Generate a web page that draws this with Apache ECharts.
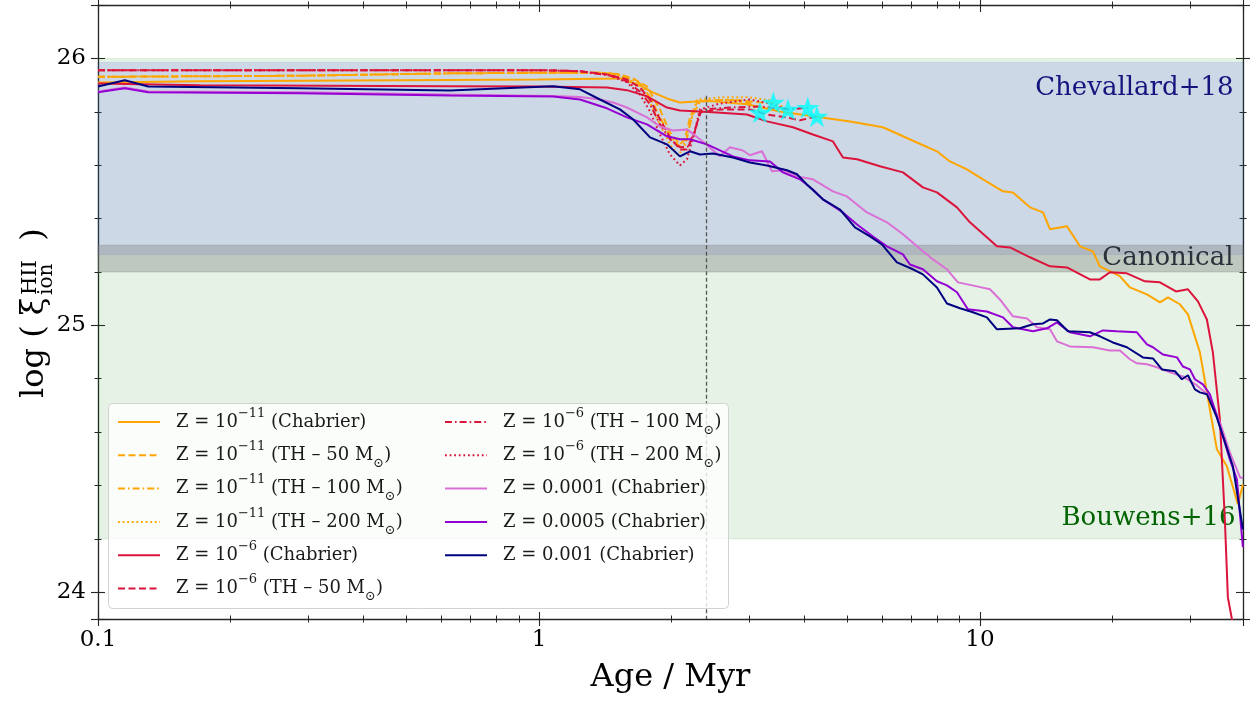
<!DOCTYPE html>
<html><head><meta charset="utf-8">
<script src="https://cdn.jsdelivr.net/npm/echarts@6/dist/echarts.min.js"></script>
<style>html,body{margin:0;padding:0;background:#fff}#c{width:1256px;height:701px}</style>
</head><body><div id="c"></div>
<script>
const FONT = 'DejaVu Serif';

// ---------- data: [age (Myr), log xi_ion] ----------
const z11_chab = [[0.1,25.910],[0.170,25.914],[0.628,25.919],[1.0,25.921],[1.526,25.925],[1.694,25.899],[1.813,25.873],[1.951,25.850],[2.088,25.835],[2.318,25.839],[2.481,25.839],[2.963,25.828],[3.52,25.801],[4.181,25.783],[5.074,25.764],[6.026,25.742],[7.197,25.685],[7.990,25.652],[8.551,25.614],[9.343,25.584],[10.16,25.547],[11.28,25.502],[11.88,25.498],[12.99,25.442],[13.90,25.423],[14.42,25.360],[15.75,25.371],[16.86,25.296],[18.04,25.277],[18.71,25.221],[20.77,25.184],[21.88,25.142],[23.92,25.116],[25.60,25.086],[26.69,25.105],[28.41,25.079],[29.63,25.041],[31.54,24.899],[34.46,24.536],[36.31,24.472],[38.46,24.330],[39.48,24.404]];
const z11_th50 = [[0.1,25.931],[0.287,25.935],[0.628,25.944],[1.0,25.946],[1.375,25.946],[1.526,25.940],[1.634,25.925],[1.758,25.895],[1.881,25.809],[1.982,25.723],[2.088,25.678],[2.143,25.697],[2.2,25.779],[2.282,25.835],[2.442,25.843],[2.856,25.843],[3.171,25.835],[3.4,25.835]];
const z11_th100 = [[0.1,25.931],[0.287,25.935],[0.628,25.944],[1.0,25.946],[1.375,25.946],[1.45,25.944],[1.583,25.929],[1.694,25.906],[1.786,25.854],[1.881,25.779],[1.982,25.708],[2.088,25.670],[2.155,25.685],[2.22,25.779],[2.318,25.839],[2.711,25.846],[3.009,25.831],[3.171,25.798]];
const z11_th200 = [[0.1,25.931],[0.287,25.935],[0.628,25.944],[1.0,25.946],[1.375,25.946],[1.45,25.944],[1.583,25.925],[1.694,25.895],[1.786,25.835],[1.881,25.753],[1.982,25.678],[2.06,25.640],[2.13,25.659],[2.2,25.753],[2.282,25.846],[2.573,25.854],[3.009,25.854],[3.341,25.843],[3.67,25.809]];
const z6_chab = [[0.1,25.906],[0.170,25.899],[0.628,25.896],[1.0,25.895],[1.426,25.891],[1.583,25.881],[1.758,25.858],[1.951,25.816],[2.088,25.805],[2.481,25.798],[2.963,25.790],[3.289,25.764],[3.767,25.742],[4.181,25.715],[4.642,25.689],[4.891,25.629],[5.263,25.622],[5.933,25.596],[6.690,25.573],[7.426,25.517],[7.990,25.498],[8.870,25.442],[9.491,25.386],[10.93,25.296],[11.70,25.292],[12.99,25.255],[14.42,25.221],[15.75,25.217],[17.76,25.172],[18.71,25.172],[19.71,25.199],[21.54,25.195],[23.67,25.165],[25.60,25.161],[27.83,25.127],[29.63,25.135],[31.22,25.090],[32.71,25.022],[33.75,24.899],[35.01,24.648],[35.93,24.273],[36.50,23.981],[37.47,23.880]];
const z6_th50 = [[0.1,25.956],[0.287,25.956],[0.628,25.956],[1.0,25.956],[1.239,25.952],[1.426,25.940],[1.583,25.921],[1.694,25.891],[1.786,25.846],[1.881,25.772],[1.982,25.704],[2.088,25.659],[2.166,25.659],[2.247,25.715],[2.318,25.798],[2.573,25.809],[3.009,25.809],[3.289,25.790],[3.651,25.779],[3.907,25.768],[4.269,25.783]];
const z6_th100 = [[0.1,25.956],[0.287,25.956],[0.628,25.956],[1.0,25.956],[1.239,25.952],[1.45,25.936],[1.583,25.914],[1.694,25.876],[1.786,25.828],[1.881,25.753],[1.982,25.697],[2.088,25.667],[2.18,25.670],[2.26,25.734],[2.34,25.809],[2.711,25.816],[3.171,25.820],[3.70,25.809],[4.07,25.816]];
const z6_th200 = [[0.1,25.956],[0.287,25.956],[0.628,25.956],[1.0,25.956],[1.239,25.952],[1.45,25.936],[1.583,25.910],[1.694,25.865],[1.786,25.801],[1.881,25.715],[1.982,25.640],[2.088,25.599],[2.166,25.622],[2.247,25.715],[2.318,25.809],[2.573,25.831],[3.009,25.846],[3.341,25.831],[3.67,25.809]];
const z1e4_chab = [[0.1,25.876],[0.115,25.891],[0.130,25.876],[0.287,25.873],[0.628,25.865],[1.076,25.859],[1.239,25.855],[1.375,25.846],[1.472,25.835],[1.583,25.816],[1.758,25.779],[1.881,25.745],[2.014,25.730],[2.166,25.734],[2.318,25.697],[2.573,25.633],[2.711,25.667],[2.901,25.655],[3.009,25.637],[3.205,25.652],[3.376,25.577],[3.575,25.581],[3.846,25.558],[4.181,25.547],[4.642,25.502],[4.995,25.483],[5.544,25.423],[6.153,25.386],[6.690,25.341],[7.197,25.296],[7.825,25.247],[8.418,25.210],[8.916,25.161],[9.844,25.146],[10.54,25.135],[11.10,25.097],[11.88,25.034],[12.79,25.026],[13.47,24.993],[14.42,24.985],[14.95,24.940],[16.00,24.921],[18.04,24.918],[19.71,24.906],[20.77,24.906],[21.88,24.873],[22.70,24.858],[23.92,24.854],[25.20,24.843],[26.97,24.824],[28.86,24.809],[31.05,24.775],[33.23,24.734],[35.01,24.637],[36.88,24.524],[38.87,24.431],[39.48,24.427]];
const z5e4_chab = [[0.1,25.873],[0.115,25.888],[0.130,25.873],[0.287,25.869],[0.628,25.861],[1.076,25.857],[1.239,25.846],[1.426,25.813],[1.583,25.779],[1.758,25.753],[1.951,25.708],[2.088,25.697],[2.2,25.697],[2.404,25.678],[2.754,25.633],[3.009,25.618],[3.341,25.614],[3.575,25.573],[3.907,25.547],[4.181,25.509],[4.405,25.472],[4.891,25.423],[5.263,25.378],[5.721,25.333],[6.153,25.296],[6.690,25.266],[6.940,25.228],[7.426,25.210],[7.990,25.165],[8.418,25.150],[8.870,25.124],[9.39,25.060],[10.37,25.052],[11.28,25.030],[11.88,24.993],[13.19,24.978],[14.19,24.989],[14.95,25.011],[16.00,24.974],[17.76,24.959],[19.01,24.981],[20.45,24.978],[22.70,24.974],[23.92,24.929],[24.68,24.918],[26.00,24.891],[27.98,24.880],[28.86,24.846],[29.94,24.835],[30.73,24.798],[32.04,24.779],[33.23,24.742],[34.46,24.659],[35.56,24.584],[36.88,24.498],[38.26,24.423],[39.48,24.169]];
const z1e3_chab = [[0.1,25.895],[0.115,25.918],[0.130,25.895],[0.287,25.888],[0.628,25.880],[1.076,25.896],[1.239,25.884],[1.375,25.846],[1.526,25.809],[1.634,25.772],[1.786,25.704],[1.951,25.678],[2.088,25.633],[2.2,25.652],[2.318,25.640],[2.481,25.644],[2.754,25.629],[3.009,25.610],[3.289,25.599],[3.651,25.581],[3.846,25.566],[4.052,25.528],[4.405,25.472],[4.815,25.434],[5.208,25.367],[5.632,25.333],[5.995,25.303],[6.483,25.236],[7.049,25.210],[7.426,25.191],[7.990,25.142],[8.418,25.082],[9.011,25.064],[9.641,25.049],[10.37,25.030],[10.93,24.985],[12.32,24.989],[13.19,25.004],[13.90,25.007],[14.42,25.022],[14.95,25.019],[15.83,24.978],[17.76,24.974],[18.71,24.959],[20.02,24.936],[21.54,24.918],[23.42,24.880],[24.68,24.876],[25.87,24.835],[27.69,24.828],[28.71,24.798],[29.63,24.813],[30.73,24.760],[31.54,24.749],[32.71,24.742],[34.46,24.655],[37.47,24.472],[39.48,24.236]];
const starPoints = [[3.17,25.798],[3.40,25.835],[3.67,25.809],[4.07,25.816],[4.27,25.783]];

const bouwensBand = [24.2, 26.0];
const chevallardBand = [25.265, 25.985];
const canonicalBand = [25.2, 25.3];
const markerAge = [2.39, 25.86];

const xRange = [0.1, 39.5];
const yRange = [23.9, 26.2];
const xTickLabels = {'-1':'0.1', '0':'1', '1':'10'};
const yTickLabels = ['24','25','26'];

// ---------- series definitions ----------
const ORANGE='#ffa500', RED='#dc143c', PINK='#da70d6', PURPLE='#9400d3', NAVY='#000080';
const DASH=[7,3.5], DASHDOT=[7,3,1.6,3], DOT=[1.8,2.8];
const lines = [
  {name:'Z = 1e-11 (Chabrier)', data:z11_chab, color:ORANGE, type:'solid', label:'{n0|Z = 10}{sup|−11}{n| (Chabrier)}'},
  {name:'Z = 1e-11 (TH - 50)', data:z11_th50, color:ORANGE, type:DASH, label:'{n0|Z = 10}{sup|−11}{n| (TH – 50 M}{sub|⊙}{n|)}'},
  {name:'Z = 1e-11 (TH - 100)', data:z11_th100, color:ORANGE, type:DASHDOT, label:'{n0|Z = 10}{sup|−11}{n| (TH – 100 M}{sub|⊙}{n|)}'},
  {name:'Z = 1e-11 (TH - 200)', data:z11_th200, color:ORANGE, type:DOT, label:'{n0|Z = 10}{sup|−11}{n| (TH – 200 M}{sub|⊙}{n|)}'},
  {name:'Z = 1e-6 (Chabrier)', data:z6_chab, color:RED, type:'solid', label:'{n0|Z = 10}{sup|−6}{n| (Chabrier)}'},
  {name:'Z = 1e-6 (TH - 50)', data:z6_th50, color:RED, type:DASH, label:'{n0|Z = 10}{sup|−6}{n| (TH – 50 M}{sub|⊙}{n|)}'},
  {name:'Z = 1e-6 (TH - 100)', data:z6_th100, color:RED, type:DASHDOT, label:'{n0|Z = 10}{sup|−6}{n| (TH – 100 M}{sub|⊙}{n|)}'},
  {name:'Z = 1e-6 (TH - 200)', data:z6_th200, color:RED, type:DOT, label:'{n0|Z = 10}{sup|−6}{n| (TH – 200 M}{sub|⊙}{n|)}'},
  {name:'Z = 0.0001 (Chabrier)', data:z1e4_chab, color:PINK, type:'solid', label:'{n0|Z = 0.0001 (Chabrier)}'},
  {name:'Z = 0.0005 (Chabrier)', data:z5e4_chab, color:PURPLE, type:'solid', label:'{n0|Z = 0.0005 (Chabrier)}'},
  {name:'Z = 0.001 (Chabrier)', data:z1e3_chab, color:NAVY, type:'solid', label:'{n0|Z = 0.001 (Chabrier)}'}
];
const labelMap = {};
lines.forEach(l => labelMap[l.name] = l.label);

const TXT = '#1a1a1a';
const rich = {
  n0: {fontFamily:FONT, fontSize:18, lineHeight:30, height:30, color:TXT, padding:[0,0,0,11]},
  n: {fontFamily:FONT, fontSize:18, lineHeight:30, height:30, color:TXT},
  sup: {fontFamily:FONT, fontSize:13, lineHeight:17.6, verticalAlign:'top', color:TXT},
  sub: {fontFamily:FONT, fontSize:13, lineHeight:17, verticalAlign:'bottom', color:TXT}
};
const ROW0 = 407, ROWSTEP = 33.3;
function legendCfg(name, left, row){
  return {
    data: [name], orient:'vertical', left:left, top:ROW0 + row*ROWSTEP, padding:0,
    itemWidth:42, itemHeight:30, itemGap:0, selectedMode:false,
    itemStyle:{opacity:0, color:'rgba(0,0,0,0)', borderWidth:0},
    textStyle:{fontFamily:FONT, fontSize:18, lineHeight:30, height:30, color:TXT, rich:rich},
    formatter: n => labelMap[n], z: 10
  };
}

const AX = '#262626';
function xAx(pos, inside, showLine, showLabel, extra){
  return Object.assign({
    type:'log', logBase:10, min:xRange[0], max:xRange[1], position:pos,
    axisLine:{show:showLine, onZero:false, lineStyle:{color:AX, width:1.3}},
    axisTick:{show:true, inside:inside, length:7, lineStyle:{color:AX, width:1.1}},
    minorTick:{show:true, splitNumber:9, length:3.5, lineStyle:{color:AX, width:1}},
    axisLabel:{show:showLabel, showMaxLabel:false, margin:10, fontFamily:FONT, fontSize:23, color:'#000',
      formatter: v => { const e = Math.round(Math.log10(v)); return Math.abs(Math.log10(v)-e) < 1e-6 && xTickLabels[String(e)] ? xTickLabels[String(e)] : ''; }},
    splitLine:{show:false}, minorSplitLine:{show:false}
  }, extra||{});
}
function yAx(pos, inside, showLine, showLabel){
  return {
    type:'value', min:yRange[0], max:yRange[1], splitNumber:2, position:pos,
    axisLine:{show:showLine, onZero:false, lineStyle:{color:AX, width:1.3}},
    axisTick:{show:true, inside:inside, length:7, lineStyle:{color:AX, width:1.1}},
    minorTick:{show:true, splitNumber:5, length:3.5, lineStyle:{color:AX, width:1}},
    axisLabel:{show:showLabel, showMinLabel:false, showMaxLabel:false, margin:12, fontFamily:FONT, fontSize:23, color:'#000',
      formatter: v => { const s = String(Math.round(v)); return Math.abs(v-Math.round(v))<1e-6 && yTickLabels.indexOf(s)>=0 ? s : ''; }},
    splitLine:{show:false}, minorSplitLine:{show:false}
  };
}

const series = [];
// shaded bands
series.push({type:'line', data:[], silent:true, z:1, markArea:{silent:true, itemStyle:{color:'rgba(0,128,0,0.1)', borderColor:'rgba(0,128,0,0.1)', borderWidth:1},
  label:{show:true, position:'insideBottomRight', distance:8, color:'#006400', fontFamily:FONT, fontSize:26},
  data:[[{yAxis:bouwensBand[0], name:'Bouwens+16'},{yAxis:bouwensBand[1]}]]}});
series.push({type:'line', data:[], silent:true, z:1, markArea:{silent:true, itemStyle:{color:'rgba(63,69,230,0.15)', borderColor:'rgba(63,69,230,0.12)', borderWidth:1},
  label:{show:true, position:'insideTopRight', distance:10, offset:[0,3], color:'#14147f', fontFamily:FONT, fontSize:26},
  data:[[{yAxis:chevallardBand[0], name:'Chevallard+18'},{yAxis:chevallardBand[1]}]]}});
series.push({type:'line', data:[], silent:true, z:1, markArea:{silent:true, itemStyle:{color:'rgba(126,126,126,0.36)', borderColor:'rgba(126,126,126,0.3)', borderWidth:1},
  label:{show:true, position:'insideRight', distance:10, color:'#2b303a', fontFamily:FONT, fontSize:26},
  data:[[{yAxis:canonicalBand[0], name:'Canonical'},{yAxis:canonicalBand[1]}]]},
  markLine:{silent:true, symbol:'none', label:{show:false}, lineStyle:{color:'#555', type:[4,2.5], width:1.3},
    data:[[{coord:[markerAge[0], markerAge[1]]},{coord:[markerAge[0], yRange[0]]}]]}});
lines.forEach(l => series.push({
  name:l.name, type:'line', data:l.data, symbol:'none', showSymbol:false, clip:true, z:2,
  lineStyle:{color:l.color, width:2, type:l.type}, itemStyle:{color:l.color},
  emphasis:{disabled:true}
}));
series.push({type:'scatter', data:starPoints, z:5, silent:true,
  symbol:'path://M0,-1 L0.2245,-0.309 L0.951,-0.309 L0.363,0.118 L0.588,0.809 L0,0.382 L-0.588,0.809 L-0.363,0.118 L-0.951,-0.309 L-0.2245,-0.309 Z',
  symbolSize:23, symbolKeepAspect:true, itemStyle:{color:'#00ffff'}});

const legends = [];
lines.forEach((l, i) => legends.push(i < 6 ? legendCfg(l.name, 117, i) : legendCfg(l.name, 444, i - 6)));

const option = {
  animation:false,
  backgroundColor:'#fff',
  grid:{left:98, right:13, top:5, bottom:82, containLabel:false},
  xAxis:[
    xAx('bottom', false, true, true, {name:'Age / Myr', nameLocation:'middle', nameGap:43, nameTextStyle:{fontFamily:FONT, fontSize:32, color:'#000'}}),
    xAx('bottom', true, false, false),
    xAx('top', true, true, false),
    xAx('top', false, false, false)
  ],
  yAxis:[
    yAx('left', false, true, true),
    yAx('left', true, false, false),
    yAx('right', true, true, false),
    yAx('right', false, false, false)
  ],
  legend: legends,
  graphic:[
    {type:'rect', z:8, silent:true, shape:{x:108.5, y:403.5, width:620, height:205, r:4},
      style:{fill:'rgba(255,255,255,0.8)', stroke:'#d2d2d2', lineWidth:1}},
    {type:'group', x:34.4, y:398, rotation:Math.PI/2, z:10, children:[
      {type:'text', x:0, y:0, style:{text:'log ( ξ', fontFamily:FONT, fontSize:32, fill:'#000', textAlign:'left', textVerticalAlign:'middle'}},
      {type:'text', x:103, y:-4, style:{text:'HII', fontFamily:FONT, fontSize:21, fill:'#000', textAlign:'left', textVerticalAlign:'middle'}},
      {type:'text', x:103, y:12.5, style:{text:'ion', fontFamily:FONT, fontSize:20, fill:'#000', textAlign:'left', textVerticalAlign:'middle'}},
      {type:'text', x:147, y:0, style:{text:' )', fontFamily:FONT, fontSize:32, fill:'#000', textAlign:'left', textVerticalAlign:'middle'}}
    ]}
  ],
  series: series
};
const chart = echarts.init(document.getElementById('c'));
chart.setOption(option);
</script></body></html>
